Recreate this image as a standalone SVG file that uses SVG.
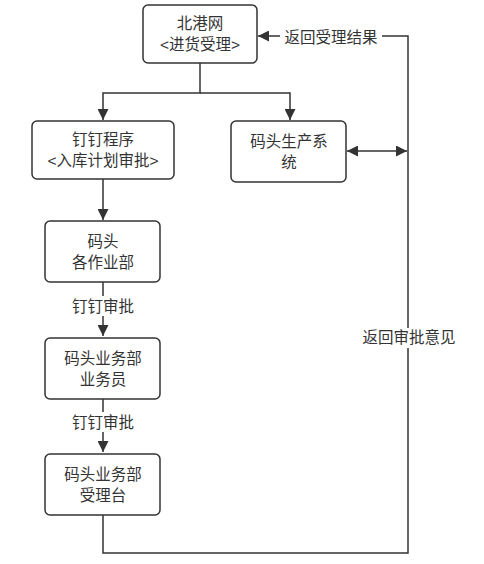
<svg xmlns="http://www.w3.org/2000/svg" width="484" height="564" viewBox="0 0 484 564">
<style>
.box{fill:#fff;stroke:#333;stroke-width:1.5}
.ln{fill:none;stroke:#333;stroke-width:1.5}
text{font-family:"Liberation Sans","Noto Sans CJK SC",sans-serif;font-size:15.5px;fill:#333;text-anchor:middle}
.lbl{fill:#fff}
</style>
<defs>
<marker id="ah2" viewBox="0 0 10 10" refX="10" refY="5" markerWidth="11" markerHeight="11" markerUnits="userSpaceOnUse" orient="auto-start-reverse">
<path d="M0,0 L10,5 L0,10 Z" fill="#333"/>
</marker>
</defs>
<g id="connectors">
<path class="ln" d="M200,63 V93 H103 V120" marker-end="url(#ah2)"/>
<path class="ln" d="M200,93 H290 V120" marker-end="url(#ah2)"/>
<path class="ln" d="M103,179 V220" marker-end="url(#ah2)"/>
<path class="ln" d="M103,282 V336" marker-end="url(#ah2)"/>
<path class="ln" d="M103,399 V452" marker-end="url(#ah2)"/>
<path class="ln" d="M103,515 V553 H408 V36 H258" marker-end="url(#ah2)"/>
<path class="ln" d="M347,151 H407" marker-start="url(#ah2)" marker-end="url(#ah2)"/>
<rect class="lbl" x="71" y="296" width="64" height="20"/>
<text x="103" y="312">钉钉审批</text>
<rect class="lbl" x="71" y="412" width="64" height="20"/>
<text x="103" y="428">钉钉审批</text>
<rect class="lbl" x="280" y="27" width="102" height="20"/>
<text x="331" y="43">返回受理结果</text>
<rect class="lbl" x="361" y="328" width="96" height="20"/>
<text x="409" y="343">返回审批意见</text>
</g>
<g id="beigangwang">
<rect class="box" x="143" y="5" width="114" height="58" rx="5"/>
<text x="200" y="29">北港网</text>
<text x="200" y="50">&lt;进货受理&gt;</text>
</g>
<g id="dingding">
<rect class="box" x="32" y="121" width="142" height="58" rx="5"/>
<text x="103" y="145">钉钉程序</text>
<text x="103" y="166">&lt;入库计划审批&gt;</text>
</g>
<g id="production">
<rect class="box" x="231" y="121" width="115" height="61" rx="5"/>
<text x="289" y="147">码头生产系</text>
<text x="289" y="168">统</text>
</g>
<g id="zuoyebu">
<rect class="box" x="45" y="221" width="115" height="61" rx="5"/>
<text x="103" y="247">码头</text>
<text x="103" y="268">各作业部</text>
</g>
<g id="yewuyuan">
<rect class="box" x="45" y="338" width="115" height="61" rx="5"/>
<text x="103" y="364">码头业务部</text>
<text x="103" y="385">业务员</text>
</g>
<g id="shoulitai">
<rect class="box" x="45" y="454" width="115" height="61" rx="5"/>
<text x="103" y="480">码头业务部</text>
<text x="103" y="501">受理台</text>
</g>
</svg>
